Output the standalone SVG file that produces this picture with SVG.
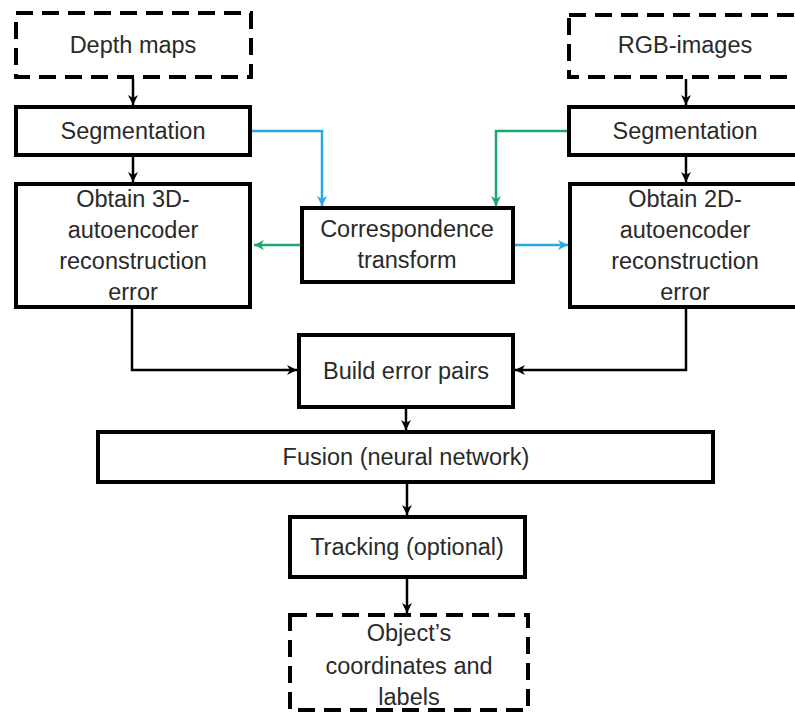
<svg xmlns="http://www.w3.org/2000/svg" width="795" height="713" viewBox="0 0 795 713">
<defs>
<style>
.box{fill:#ffffff;stroke:#000000;stroke-width:4}
.dash{fill:#ffffff;stroke:#000000;stroke-width:4;stroke-dasharray:17 9}
.t{font-family:"Liberation Sans",Arial,sans-serif;font-size:23.5px;fill:#2a2a2a;text-anchor:middle}
.k{fill:none;stroke:#000000;stroke-width:2.5}
.b{fill:none;stroke:#27aae1;stroke-width:2.5}
.g{fill:none;stroke:#1ba86f;stroke-width:2.5}
</style>
<marker id="ak" markerUnits="userSpaceOnUse" markerWidth="12" markerHeight="12" refX="10" refY="5" orient="auto"><path d="M0,0 L10,5 L0,10 L3,5 z" fill="#000000"/></marker>
<marker id="ab" markerUnits="userSpaceOnUse" markerWidth="12" markerHeight="12" refX="10" refY="5" orient="auto"><path d="M0,0 L10,5 L0,10 L3,5 z" fill="#27aae1"/></marker>
<marker id="ag" markerUnits="userSpaceOnUse" markerWidth="12" markerHeight="12" refX="10" refY="5" orient="auto"><path d="M0,0 L10,5 L0,10 L3,5 z" fill="#1ba86f"/></marker>
</defs>
<rect width="795" height="713" fill="#ffffff"/>
<g id="connectors">
<line class="k" x1="133" y1="79" x2="133" y2="105" marker-end="url(#ak)"/>
<line class="k" x1="133" y1="157" x2="133" y2="182" marker-end="url(#ak)"/>
<line class="k" x1="686" y1="79" x2="686" y2="105" marker-end="url(#ak)"/>
<line class="k" x1="686" y1="157" x2="686" y2="182" marker-end="url(#ak)"/>
<polyline class="b" points="252,131 322,131 322,206" marker-end="url(#ab)"/>
<polyline class="g" points="567,131 496,131 496,206" marker-end="url(#ag)"/>
<line class="g" x1="300" y1="245" x2="254" y2="245" marker-end="url(#ag)"/>
<line class="b" x1="515" y1="245" x2="568" y2="245" marker-end="url(#ab)"/>
<polyline class="k" points="132,309 132,370 297,370" marker-end="url(#ak)"/>
<polyline class="k" points="686,309 686,370 515,370" marker-end="url(#ak)"/>
<line class="k" x1="406" y1="409" x2="406" y2="430" marker-end="url(#ak)"/>
<line class="k" x1="407" y1="484" x2="407" y2="515" marker-end="url(#ak)"/>
<line class="k" x1="407" y1="579" x2="407" y2="613" marker-end="url(#ak)"/>
</g>
<g id="depth-maps"><rect class="dash" x="16" y="13" width="235" height="64"/><text class="t" x="133" y="53">Depth maps</text></g>
<g id="rgb-images"><rect class="dash" x="569" y="15" width="234" height="62"/><text class="t" x="685" y="53">RGB-images</text></g>
<g id="segmentation-left"><rect class="box" x="16" y="107" width="234" height="48"/><text class="t" x="133" y="139">Segmentation</text></g>
<g id="segmentation-right"><rect class="box" x="569" y="107" width="234" height="48"/><text class="t" x="685" y="139">Segmentation</text></g>
<g id="obtain-3d"><rect class="box" x="16" y="184" width="234" height="123"/>
<text class="t" x="133" y="207">Obtain 3D-</text><text class="t" x="133" y="238">autoencoder</text><text class="t" x="133" y="269">reconstruction</text><text class="t" x="133" y="300">error</text></g>
<g id="correspondence"><rect class="box" x="302" y="208" width="211" height="74"/>
<text class="t" x="407" y="237">Correspondence</text><text class="t" x="407" y="268">transform</text></g>
<g id="obtain-2d"><rect class="box" x="570" y="184" width="234" height="123"/>
<text class="t" x="685" y="207">Obtain 2D-</text><text class="t" x="685" y="238">autoencoder</text><text class="t" x="685" y="269">reconstruction</text><text class="t" x="685" y="300">error</text></g>
<g id="build-error-pairs"><rect class="box" x="299" y="335" width="214" height="72"/><text class="t" x="406" y="379">Build error pairs</text></g>
<g id="fusion"><rect class="box" x="98" y="432" width="615" height="50"/><text class="t" x="406" y="465">Fusion (neural network)</text></g>
<g id="tracking"><rect class="box" x="290" y="517" width="235" height="60"/><text class="t" x="407" y="555">Tracking (optional)</text></g>
<g id="objects-coordinates"><rect class="dash" x="290" y="615" width="238" height="95"/>
<text class="t" x="409" y="641">Object’s</text><text class="t" x="409" y="674">coordinates and</text><text class="t" x="409" y="705">labels</text></g>
</svg>
